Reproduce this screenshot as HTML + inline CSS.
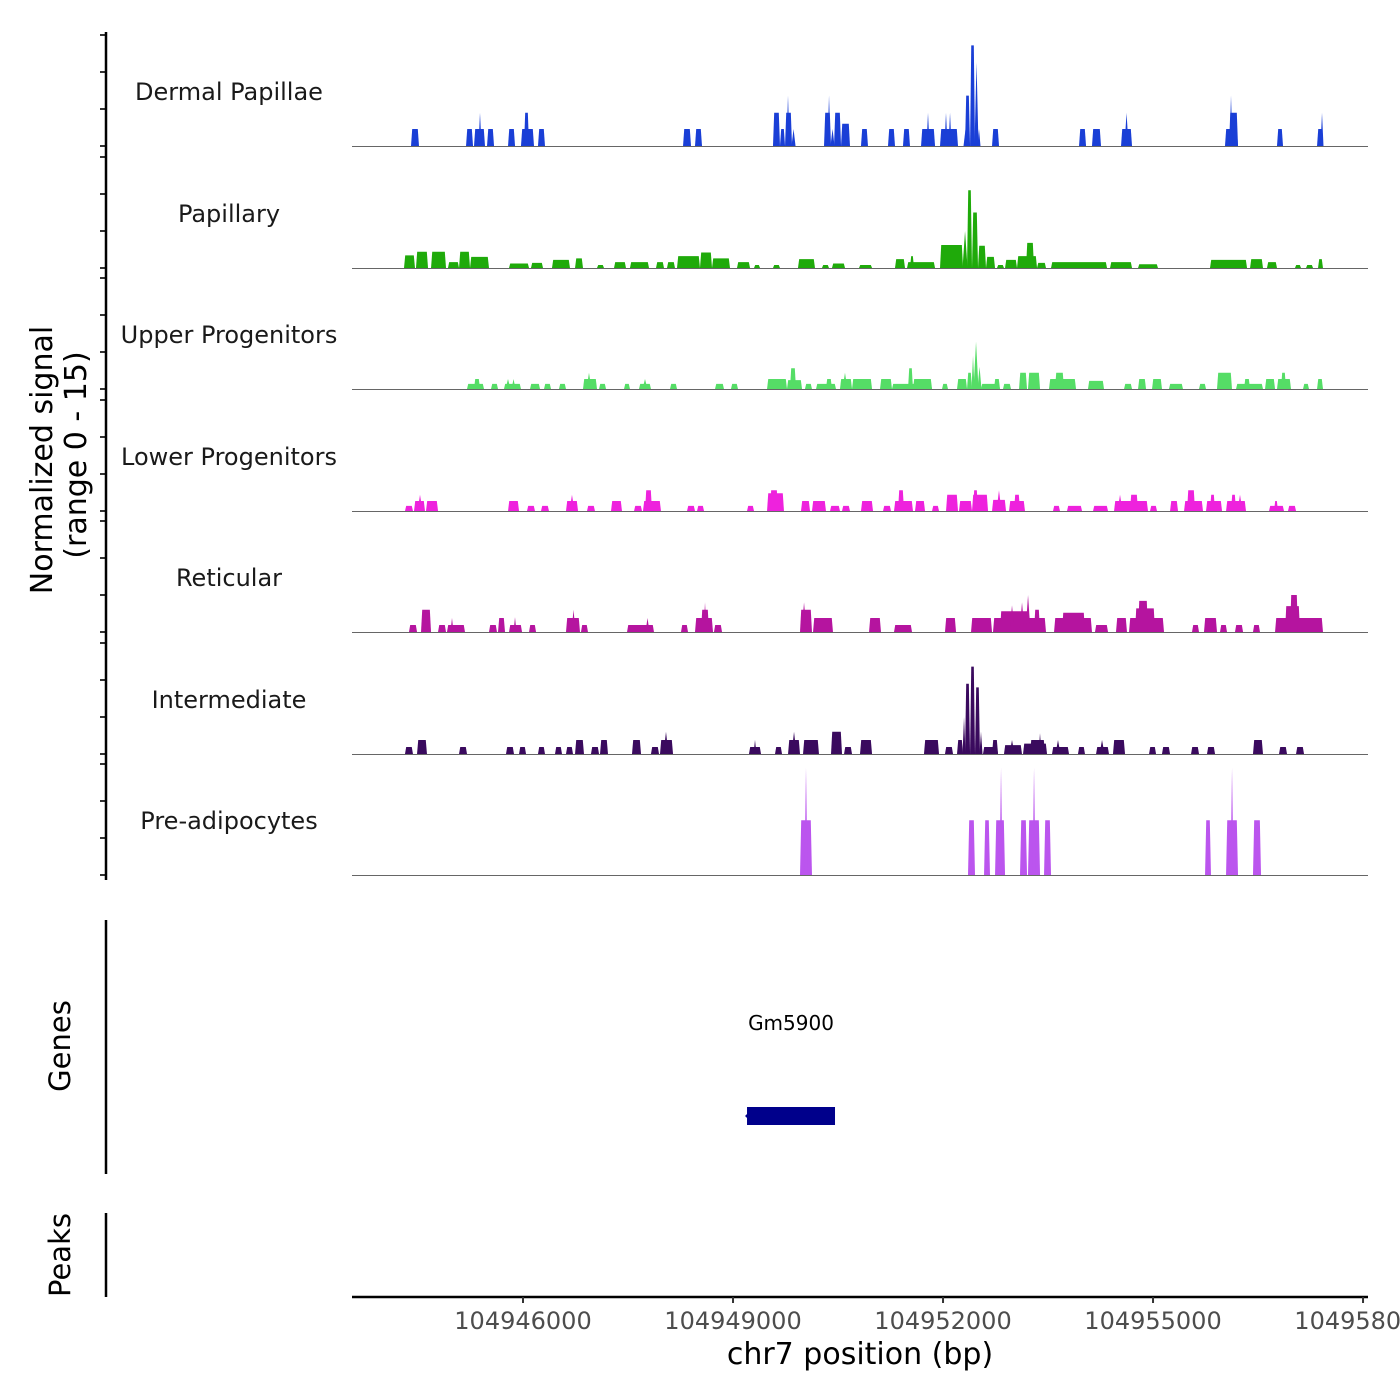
<!DOCTYPE html>
<html><head><meta charset="utf-8">
<style>
html,body{margin:0;padding:0;background:#fff;}
svg{display:block;font-family:"DejaVu Sans","Liberation Sans",sans-serif;}
</style></head>
<body>
<svg id="chart" width="1400" height="1400" viewBox="0 0 1400 1400" xmlns="http://www.w3.org/2000/svg">
  <rect width="1400" height="1400" fill="#fff"/>
  <g id="tracks"></g>
  <g id="axes"></g>
  <text transform="translate(52,460) rotate(-90)" text-anchor="middle" font-size="30" fill="#000">Normalized signal</text>
  <text transform="translate(86,455) rotate(-90)" text-anchor="middle" font-size="30" fill="#000">(range 0 - 15)</text>
  <line x1="106" y1="920" x2="106" y2="1174" stroke="#000" stroke-width="2.5"/>
  <text transform="translate(70,1046) rotate(-90)" text-anchor="middle" font-size="29" fill="#000">Genes</text>
  <line x1="106" y1="1213" x2="106" y2="1297" stroke="#000" stroke-width="2.5"/>
  <text transform="translate(70,1255) rotate(-90)" text-anchor="middle" font-size="29" fill="#000">Peaks</text>
  <g id="genes"></g>
  <text x="860" y="1364" text-anchor="middle" font-size="30" fill="#000">chr7 position (bp)</text>
</svg>
<script>
const REGION_START = 104943557;
const REGION_END = 104958071;
const trackNames = ["Dermal Papillae","Papillary","Upper Progenitors","Lower Progenitors","Reticular","Intermediate","Pre-adipocytes"];
const trackColors = ["#1a3fd6","#1faa0a","#55dd66","#ee22dd","#b5149f","#3a0a5e","#bb55ee"];
const yTickValues = [0,5,10,15];
const xTickValues = [104946000,104949000,104952000,104955000,104958000];
const xTickLabels = ["104946000","104949000","104952000","104955000","104958000"];
// segments: [startOffsetBp, endOffsetBp, signal]
const dermalPapillae = [[843,957,2.3],[1629,1729,2.3],[1743,1900,2.3],[1814,1843,4.5],[1929,2029,2.3],[2229,2329,2.3],[2414,2600,2.3],[2457,2529,4.5],[2657,2757,2.3],[4729,4843,2.3],[4900,5000,2.3],[6014,6114,4.5],[6114,6186,2.3],[6186,6286,4.5],[6214,6243,6.8],[6286,6329,2.3],[6743,6843,4.5],[6800,6829,6.8],[6843,6886,2.3],[6886,6986,4.5],[6986,7114,3],[7271,7371,2.3],[7657,7757,2.3],[7871,7971,2.3],[8129,8329,2.3],[8214,8243,4.5],[8400,8657,2.3],[8471,8500,4.5],[8529,8557,4.5],[8743,8786,2.3],[8757,8829,6.8],[8829,8900,13.6],[8900,8943,11.3],[8943,8971,2.3],[9143,9243,2.3],[10386,10486,2.3],[10571,10700,2.3],[10986,11143,2.3],[11043,11086,4.5],[12471,12657,2.3],[12529,12657,4.5],[12543,12571,6.8],[13214,13300,2.3],[13786,13871,2.3],[13843,13871,4.5]];
const papillary = [[743,900,1.7],[914,1086,2.2],[1129,1343,2.2],[1371,1529,0.8],[1529,1686,2.2],[1686,1957,1.5],[2243,2529,0.6],[2557,2729,0.7],[2857,3114,1.1],[3186,3300,1.3],[3500,3600,0.4],[3743,3914,0.8],[3971,4243,0.8],[4343,4457,0.8],[4500,4614,0.8],[4643,4971,1.6],[4971,5143,2.1],[5143,5400,1.3],[5500,5686,0.8],[5743,5829,0.4],[6014,6114,0.4],[6371,6614,1.2],[6714,6814,0.4],[6857,7043,0.6],[7243,7429,0.4],[7757,7900,1.2],[7929,8329,0.8],[7971,8029,1.6],[8400,8729,3.1],[8729,8786,5],[8786,8857,10.5],[8857,8943,7.5],[8943,9057,3],[9057,9186,1.5],[9214,9314,0.4],[9329,9500,1.1],[9500,9786,1.6],[9629,9743,3.4],[9786,9914,0.7],[9986,10786,0.8],[10829,11143,0.8],[11229,11514,0.5],[12257,12786,1.1],[12829,13014,1.2],[13071,13214,0.8],[13471,13557,0.4],[13629,13729,0.4],[13800,13871,1.2]];
const upperProgenitors = [[1643,1886,0.7],[1743,1829,1.35],[1986,2086,0.7],[2171,2414,0.7],[2200,2257,1.35],[2286,2329,1.35],[2543,2686,0.7],[2743,2843,0.7],[2957,3057,0.7],[3300,3500,1.35],[3357,3414,2.2],[3529,3629,0.7],[3886,3971,0.7],[4100,4271,0.7],[4157,4214,1.35],[4543,4643,0.7],[5186,5314,0.7],[5414,5514,0.7],[5929,6214,1.35],[6214,6429,1.2],[6257,6343,2.8],[6471,6571,0.7],[6629,6914,0.7],[6771,6857,1.35],[6971,7143,1.35],[7014,7071,2.2],[7143,7429,1.35],[7543,7714,1.35],[7714,8286,0.7],[7943,8014,2.8],[8014,8286,1.35],[8429,8514,0.7],[8643,8786,1.35],[8786,8857,2.2],[8857,8886,4.5],[8886,8943,6.4],[8943,8986,3],[8986,9257,0.7],[9171,9257,1.35],[9300,9414,0.7],[9529,9643,2.2],[9657,9829,2.2],[9957,10343,1.35],[10043,10171,2.2],[10514,10743,1.1],[11029,11143,0.7],[11229,11343,1.35],[11429,11571,1.35],[11671,11871,0.7],[12100,12200,0.7],[12357,12571,2.2],[12629,13014,0.7],[12743,12829,1.35],[13043,13186,1.35],[13214,13414,1.35],[13271,13343,2.2],[13586,13671,0.7],[13786,13871,1.35]];
const lowerProgenitors = [[757,871,0.7],[886,1043,1.35],[943,1000,2.2],[1057,1229,1.35],[2229,2386,1.35],[2500,2614,0.7],[2700,2814,0.7],[3057,3229,1.35],[3114,3171,2.2],[3357,3471,0.7],[3700,3857,1.35],[4029,4143,0.7],[4157,4414,1.35],[4186,4286,2.8],[4786,4900,0.7],[4929,5029,0.7],[5643,5743,0.7],[5929,6171,2.4],[5971,6086,2.8],[6414,6543,1.35],[6571,6771,1.35],[6829,6971,0.7],[7000,7114,0.7],[7271,7443,1.35],[7586,7700,0.7],[7743,8014,1.35],[7800,7886,2.8],[8043,8186,1.35],[8286,8386,0.7],[8486,8657,2.2],[8671,8857,1.35],[8857,9086,2.2],[8871,8943,2.8],[9143,9343,1.5],[9214,9271,2.8],[9386,9614,1.35],[9457,9543,2.2],[10014,10114,0.7],[10214,10429,0.7],[10586,10800,0.7],[10886,11371,1.35],[10943,11000,2.2],[11114,11229,2.2],[11400,11500,0.7],[11686,11800,1.35],[11886,12157,1.35],[11929,12043,2.8],[12200,12429,1.35],[12257,12329,2.2],[12486,12771,1.35],[12557,12629,2.2],[12657,12714,2.2],[13100,13314,0.7],[13171,13229,1.35],[13371,13486,0.7]];
const reticular = [[814,929,0.95],[986,1129,3],[1229,1343,0.95],[1357,1614,0.95],[1414,1443,1.9],[1957,2071,0.95],[2086,2186,1.9],[2243,2429,0.95],[2314,2343,2],[2529,2629,0.95],[3057,3257,1.9],[3143,3186,3],[3271,3371,0.95],[3929,4314,0.95],[4200,4243,1.9],[4700,4800,0.95],[4900,5157,1.9],[4986,5100,3],[5029,5057,4],[5171,5286,0.95],[6400,6571,3],[6429,6486,4],[6586,6871,1.9],[7386,7557,1.9],[7743,8000,0.95],[8471,8629,1.9],[8843,9143,1.9],[9157,9914,1.9],[9257,9686,2.8],[9400,9457,3.6],[9543,9600,4],[9629,9686,5],[9743,9829,3],[10029,10571,1.9],[10143,10471,2.6],[10614,10800,0.95],[10914,11071,1.9],[11100,11600,1.9],[11186,11471,3.2],[11229,11371,4.2],[12000,12100,0.95],[12171,12357,1.9],[12400,12500,0.95],[12614,12729,0.95],[12871,12971,0.95],[13186,13871,1.9],[13329,13543,3.5],[13400,13514,5]];
const intermediate = [[757,871,0.95],[929,1071,1.9],[1529,1643,0.95],[2200,2314,0.95],[2386,2486,0.95],[2657,2757,0.95],[2900,3000,0.95],[3057,3157,0.95],[3186,3314,1.9],[3414,3529,0.95],[3543,3657,1.9],[4000,4129,1.9],[4271,4386,0.95],[4400,4586,1.9],[4457,4514,3],[5671,5843,0.95],[5743,5771,1.9],[6043,6143,0.95],[6229,6400,1.9],[6286,6343,3],[6443,6671,1.9],[6843,7000,3],[7029,7143,0.95],[7257,7429,1.9],[8171,8386,1.9],[8471,8586,0.95],[8643,8729,1.9],[8729,8757,5],[8757,8829,9.5],[8829,8900,11.8],[8900,8971,9],[8971,9000,3],[9014,9229,0.95],[9143,9229,1.9],[9314,9571,1.2],[9400,9457,1.9],[9586,9929,1.4],[9686,9900,1.9],[9814,9843,2.8],[10000,10243,0.95],[10057,10114,1.9],[10371,10471,0.95],[10629,10814,0.95],[10686,10743,1.9],[10871,11043,1.9],[11386,11486,0.95],[11571,11686,0.95],[11986,12100,0.95],[12214,12329,0.95],[12871,13014,1.9],[13243,13357,0.95],[13486,13600,0.95]];
const preAdipocytes = [[6400,6571,7.4],[6471,6500,14.5],[8800,8900,7.4],[9029,9114,7.4],[9186,9329,7.4],[9257,9286,14.5],[9543,9643,7.4],[9657,9829,7.4],[9729,9757,14.5],[9886,9986,7.4],[12186,12271,7.4],[12486,12657,7.4],[12557,12586,14.5],[12871,12986,7.4]];
const geneNames = ["Gm5900"];
const geneStarts = [5643];
const geneEnds = [6900];

const trackData = [dermalPapillae,papillary,upperProgenitors,lowerProgenitors,reticular,intermediate,preAdipocytes];
const NS = "http://www.w3.org/2000/svg";
const X0 = 352, X1 = 1368;
const baselines = [146,268,389,511,632,754,875];
const PX_PER_UNIT = 7.4;
function xScale(bp){ return X0 + (bp - REGION_START) / (REGION_END - REGION_START) * (X1 - X0); }
function xOff(off){ return xScale(REGION_START + off); }
function yScale(v, t){ return baselines[t] - v * PX_PER_UNIT; }
function mk(tag, attrs){ const e = document.createElementNS(NS, tag); for (const k in attrs) e.setAttribute(k, attrs[k]); return e; }

const tracksG = document.getElementById('tracks');
const axesG = document.getElementById('axes');
trackData.forEach((segs, t) => {
  const g = mk('g', {});
  
  
  const yb = baselines[t];
  segs.forEach(s => {
    const xa = xOff(s[0]), xb = xOff(s[1]), yt = yScale(s[2], t);
    let pts;
    if (xb - xa < 4) { const m = (xa + xb) / 2; pts = `${xa-0.5},${yb} ${m},${yt} ${xb+0.5},${yb}`; }
    else pts = `${xa},${yb} ${xa+1.2},${yt} ${xb-1.2},${yt} ${xb},${yb}`;
    const p = mk('polygon', {points: pts, fill: trackColors[t]});
    
    
    g.appendChild(p);
  });
  const bl = mk('line', {x1: X0, x2: X1, y1: yb + 0.5, y2: yb + 0.5, stroke: '#666', 'stroke-width': 1});
  
  
  g.appendChild(bl);
  const lab = mk('text', {x: 229, y: yb - 46, 'text-anchor': 'middle', 'font-size': 24, fill: '#1a1a1a'});
  lab.textContent = trackNames[t];
  
  
  g.appendChild(lab);
  tracksG.appendChild(g);
  yTickValues.forEach(v => {
    const y = yScale(v, t);
    const tk = mk('line', {x1: 100, x2: 106, y1: y, y2: y, stroke: '#333', 'stroke-width': 2});
    
    
    axesG.appendChild(tk);
  });
});
const yAxis = mk('line', {x1: 106, x2: 106, y1: 32, y2: 880, stroke: '#000', 'stroke-width': 2.5});


axesG.appendChild(yAxis);

const xAxis = mk('line', {x1: X0, x2: X1, y1: 1297, y2: 1297, stroke: '#000', 'stroke-width': 2.5});


axesG.appendChild(xAxis);
xTickValues.forEach((v, i) => {
  const x = xScale(v);
  const tk = mk('line', {x1: x, x2: x, y1: 1297, y2: 1303, stroke: '#333', 'stroke-width': 2});
  
  
  axesG.appendChild(tk);
  const tl = mk('text', {x: x, y: 1329, 'text-anchor': 'middle', 'font-size': 24, fill: '#4d4d4d'});
  tl.textContent = xTickLabels[i];
  
  
  axesG.appendChild(tl);
});

const genesG = document.getElementById('genes');
geneNames.forEach((n, i) => {
  const xa = xOff(geneStarts[i]), xb = xOff(geneEnds[i]);
  const r = mk('rect', {x: xa, y: 1107, width: xb - xa, height: 18, fill: '#00008b'});
  
  
  genesG.appendChild(r);
  const a = mk('polygon', {points: `${xa-2},1116 ${xa+2},1112 ${xa+2},1120`, fill: '#00008b'});
  
  
  genesG.appendChild(a);
  const tx = mk('text', {x: (xa + xb) / 2, y: 1030, 'text-anchor': 'middle', 'font-size': 20, fill: '#000'});
  tx.textContent = n;
  
  
  genesG.appendChild(tx);
});
</script>
</body></html>
